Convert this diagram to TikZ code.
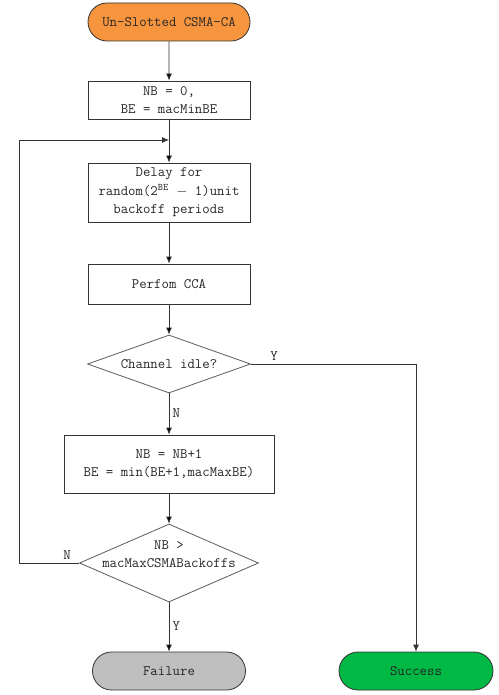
\documentclass[tikz,border=0pt]{standalone}
\usepackage{fontspec}
\usepackage{tikz}
\usetikzlibrary{arrows.meta,shapes.geometric,shapes.misc,positioning}

\definecolor{startorange}{HTML}{F7953F}
\definecolor{endgreen}{HTML}{00B844}
\definecolor{endgray}{HTML}{BFBFBF}
\definecolor{linegray}{HTML}{333333}

\tikzset{
  process/.style={draw=linegray, rectangle, inner sep=0pt, minimum width=162pt, align=center},
  terminal/.style={draw=linegray, rounded rectangle, inner sep=0pt, minimum height=38pt},
  decision/.style={draw=linegray!80, diamond, inner sep=0pt, aspect=2.8},
}

\begin{document}
\begin{tikzpicture}[>={Latex[length=7pt,width=6pt]}, line width=0.8pt, node distance=80pt,
    font=\ttfamily\fontsize{14.4}{18.5}\selectfont, text=black!85]
    \useasboundingbox (0,0) rectangle (498pt,-695pt);
    % Nodes {start, init, delay, cca, idle, update, maxb, fail, ok}
    \node [terminal, fill=startorange, minimum width=162pt] (start) at (169pt,-22pt) {Un-Slotted CSMA-CA};
    \node [process, minimum height=38pt] (init)   [below of=start, node distance=78pt]   {NB = 0,\\BE = macMinBE};
    \node [process, minimum height=59pt] (delay)  [below of=init, node distance=92.5pt]  {Delay for\\random(2\textsuperscript{BE} $-$ 1)unit\\backoff periods};
    \node [process, minimum height=40pt] (cca)    [below of=delay, node distance=91.5pt] {Perfom CCA};
    \node [decision, minimum width=163pt, minimum height=58pt] (idle) [below of=cca] {Channel idle?};
    \node [process, minimum width=210pt, minimum height=58pt] (update) [below of=idle, node distance=100pt] {NB = NB+1\\BE = min(BE+1,macMaxBE)};
    \node [decision, minimum width=179pt, minimum height=78pt,
           label={[align=center, yshift=9pt]center:NB >\\macMaxCSMABackoffs}] (maxb) [below of=update, node distance=99pt] {};
    \node [terminal, fill=endgray, minimum width=153pt] (fail) [below of=maxb, node distance=108pt] {Failure};
    \node [terminal, fill=endgreen, minimum width=154pt] (ok) [right of=fail, node distance=247pt] {Success};
    \coordinate (loopin) at (169pt,-140pt);

    % Paths
    \path [->, draw=linegray] (start) edge (init);
    \path [->, draw=linegray] (init) edge (delay);
    \path [->, draw=linegray] (delay) edge (cca);
    \path [->, draw=linegray] (cca) edge (idle);
    \path [->, draw=linegray] (idle) edge node [right, pos=0.48] {N} (update);
    \path [->, draw=linegray] (update) edge (maxb);
    \path [->, draw=linegray] (maxb) edge node [right, pos=0.48] {Y} (fail);
    \draw [->, draw=linegray] (idle.east) -| node [above, pos=0.07] {Y} (ok);
    \draw [->, draw=linegray] (maxb.west) -- node [above, pos=0.2] {N} ++(-60pt,0) |- (loopin);
\end{tikzpicture}
\end{document}
